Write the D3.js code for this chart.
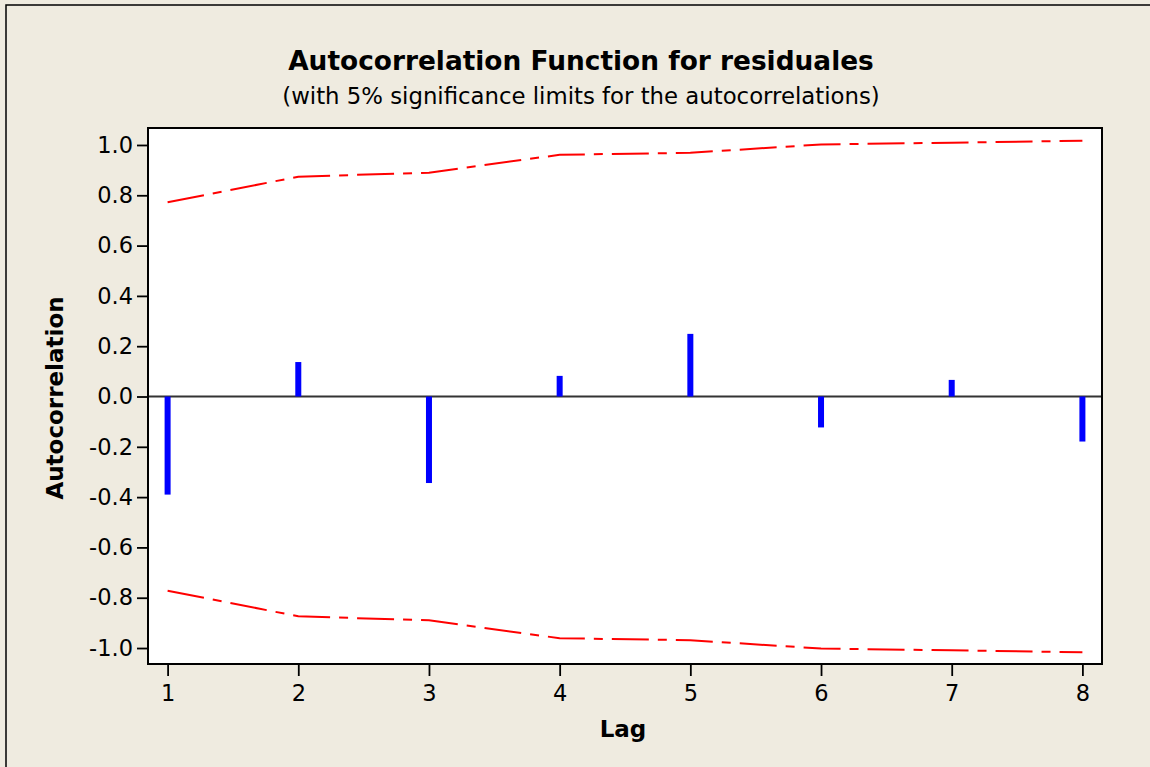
<!DOCTYPE html>
<html>
<head>
<meta charset="utf-8">
<script src="https://cdn.jsdelivr.net/npm/d3@7"></script>
<style>
  html, body { margin: 0; padding: 0; background: #EFEBE0; }
  svg { display: block; }
</style>
</head>
<body>
<div id="chart"></div>
<script>
const lags = [1, 2, 3, 4, 5, 6, 7, 8];
const acf = [-0.390, 0.137, -0.344, 0.082, 0.249, -0.123, 0.066, -0.179];
const upperLimit = [0.772, 0.874, 0.890, 0.961, 0.969, 1.002, 1.009, 1.017];
const lowerLimit = [-0.772, -0.874, -0.890, -0.961, -0.969, -1.002, -1.009, -1.017];
const yTicks = [1.0, 0.8, 0.6, 0.4, 0.2, 0.0, -0.2, -0.4, -0.6, -0.8, -1.0];

const W = 1150, H = 767;
const plot = { left: 148, top: 128, right: 1102, bottom: 664 };

const svg = d3.select("#chart").append("svg")
  .attr("width", W).attr("height", H);

svg.append("rect").attr("x", 0).attr("y", 0).attr("width", W).attr("height", H)
  .attr("fill", "#EFEBE0");
// outer frame
svg.append("rect").attr("x", 6).attr("y", 5).attr("width", W + 20).attr("height", H + 20)
  .attr("fill", "none").attr("stroke", "#000").attr("stroke-width", 1.5);

const x = d3.scaleLinear().domain([0.85, 8.15]).range([plot.left, plot.right]);
const y = d3.scaleLinear().domain([-1.0635, 1.0675]).range([plot.bottom, plot.top]);

svg.append("rect")
  .attr("x", plot.left).attr("y", plot.top)
  .attr("width", plot.right - plot.left).attr("height", plot.bottom - plot.top)
  .attr("fill", "#fff");

const font = "Tahoma, 'DejaVu Sans', sans-serif";

// zero line
svg.append("line")
  .attr("x1", plot.left).attr("x2", plot.right)
  .attr("y1", y(0)).attr("y2", y(0))
  .attr("stroke", "#333").attr("stroke-width", 2);

// limit lines
const lineGen = d3.line().x((d, i) => x(lags[i])).y(d => y(d));
[upperLimit, lowerLimit].forEach(arr => {
  svg.append("path").datum(arr)
    .attr("d", lineGen)
    .attr("fill", "none")
    .attr("stroke", "#FF0000")
    .attr("stroke-width", 2)
    .attr("stroke-dasharray", "37 9 9 9");
});

// bars
svg.selectAll("rect.bar").data(acf).enter().append("rect")
  .attr("class", "bar")
  .attr("x", (d, i) => x(lags[i]) - 3)
  .attr("width", 6)
  .attr("y", d => Math.min(y(d), y(0)))
  .attr("height", d => Math.abs(y(d) - y(0)))
  .attr("fill", "#0000FF");

// frame
svg.append("rect")
  .attr("x", plot.left).attr("y", plot.top)
  .attr("width", plot.right - plot.left).attr("height", plot.bottom - plot.top)
  .attr("fill", "none").attr("stroke", "#000").attr("stroke-width", 2);

// axes
const yAxis = d3.axisLeft(y).tickValues(yTicks).tickFormat(d3.format(".1f"))
  .tickSize(10).tickPadding(4);
const gy = svg.append("g").attr("transform", `translate(${plot.left - 1},0)`).call(yAxis);
gy.select(".domain").remove();
gy.selectAll(".tick line").attr("stroke", "#000").attr("stroke-width", 1.8);
gy.selectAll(".tick text").attr("font-family", font).attr("font-size", 22.5).attr("fill", "#000")
  .text(d => d3.format(".1f")(d).replace("−", "-"));

const xAxis = d3.axisBottom(x).tickValues(lags).tickFormat(d3.format("d"))
  .tickSize(11).tickPadding(9);
const gx = svg.append("g").attr("transform", `translate(0,${plot.bottom + 1})`).call(xAxis);
gx.select(".domain").remove();
gx.selectAll(".tick line").attr("stroke", "#000").attr("stroke-width", 1.8);
gx.selectAll(".tick text").attr("font-family", font).attr("font-size", 22.5).attr("fill", "#000");

// titles
svg.append("text").attr("x", 581).attr("y", 70).attr("text-anchor", "middle")
  .attr("font-family", font).attr("font-weight", "bold").attr("font-size", 26.4)
  .text("Autocorrelation Function for residuales");
svg.append("text").attr("x", 581).attr("y", 104).attr("text-anchor", "middle")
  .attr("font-family", font).attr("font-size", 22.8)
  .text("(with 5% significance limits for the autocorrelations)");

svg.append("text").attr("x", 623).attr("y", 737).attr("text-anchor", "middle")
  .attr("font-family", font).attr("font-weight", "bold").attr("font-size", 23)
  .text("Lag");
svg.append("text").attr("transform", "translate(63,398) rotate(-90)")
  .attr("text-anchor", "middle")
  .attr("font-family", font).attr("font-weight", "bold").attr("font-size", 23)
  .text("Autocorrelation");
</script>
</body>
</html>
